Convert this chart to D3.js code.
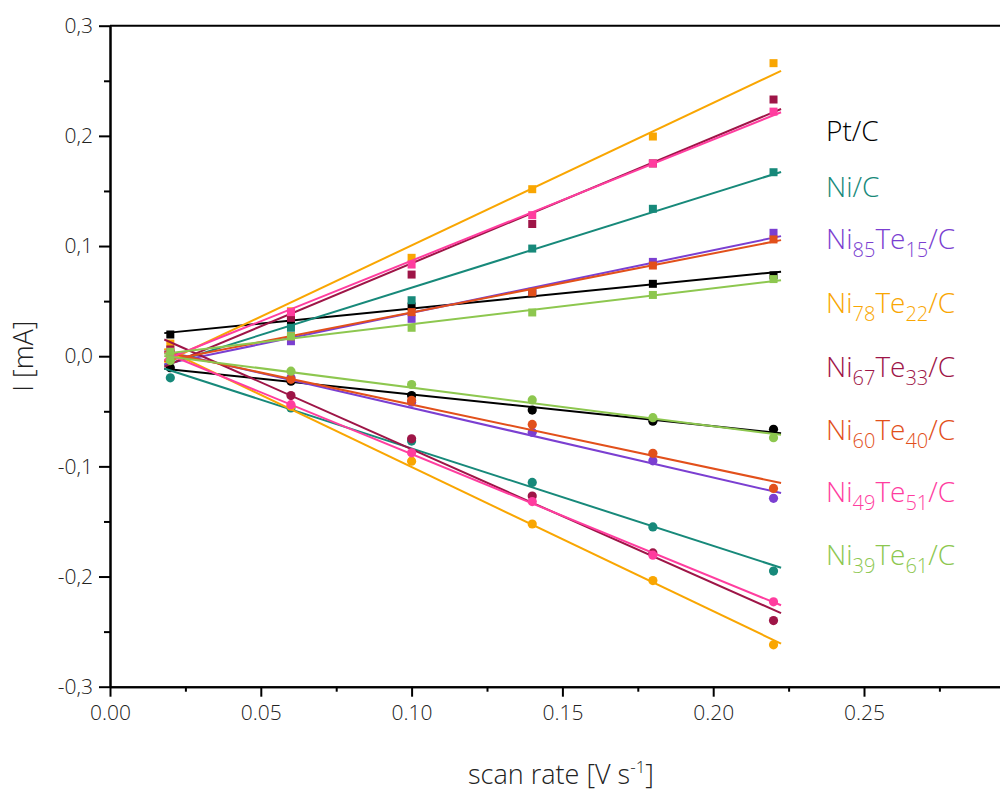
<!DOCTYPE html>
<html>
<head>
<meta charset="utf-8">
<script src="https://cdn.jsdelivr.net/npm/d3@7"></script>
<style>
  html, body { margin: 0; padding: 0; background: #fff; }
  svg { display: block; font-family: "Open Sans", sans-serif; }
</style>
</head>
<body>
<svg id="chart"></svg>
<script>
// scan rates [V s-1]
const scanRates = [0.02, 0.06, 0.10, 0.14, 0.18, 0.22]

const catalysts = ["Pt/C", "Ni/C", "Ni85Te15/C", "Ni78Te22/C", "Ni67Te33/C", "Ni60Te40/C", "Ni49Te51/C", "Ni39Te61/C"]
// legend pieces: [text, subscript?]
const legendParts = [
  [["Pt/C", false]],
  [["Ni/C", false]],
  [["Ni", false], ["85", true], ["Te", false], ["15", true], ["/C", false]],
  [["Ni", false], ["78", true], ["Te", false], ["22", true], ["/C", false]],
  [["Ni", false], ["67", true], ["Te", false], ["33", true], ["/C", false]],
  [["Ni", false], ["60", true], ["Te", false], ["40", true], ["/C", false]],
  [["Ni", false], ["49", true], ["Te", false], ["51", true], ["/C", false]],
  [["Ni", false], ["39", true], ["Te", false], ["61", true], ["/C", false]]
]
const colors = ["#000000", "#17897a", "#7b3fd1", "#f9a602", "#9e1547", "#e2501b", "#ff3d9f", "#8dc74f"]

// anodic currents [mA] (squares), one row per catalyst
const anodicCurrent = [
  [0.0197, 0.0318, 0.0451, 0.0570, 0.0657, 0.0734],
  [0.0010, 0.0258, 0.0508, 0.0977, 0.1338, 0.1670],
  [0.0010, 0.0136, 0.0339, 0.0584, 0.0856, 0.1120],
  [0.0115, 0.0408, 0.0893, 0.1516, 0.1994, 0.2660],
  [0.0061, 0.0348, 0.0741, 0.1200, 0.1750, 0.2330],
  [-0.002, 0.0181, 0.0400, 0.0580, 0.0823, 0.1060],
  [0.0040, 0.0400, 0.0832, 0.1280, 0.1750, 0.2220],
  [0.0040, 0.0180, 0.0258, 0.0397, 0.0556, 0.0700]
]
// cathodic currents [mA] (circles)
const cathodicCurrent = [
  [-0.0105, -0.0227, -0.0357, -0.0489, -0.0590, -0.0663],
  [-0.0196, -0.0470, -0.0770, -0.1146, -0.1550, -0.1950],
  [-0.0030, -0.0196, -0.0417, -0.0691, -0.0950, -0.1290],
  [-0.0020, -0.0454, -0.0953, -0.1523, -0.2037, -0.2620],
  [0.0040, -0.0357, -0.0750, -0.1270, -0.1786, -0.2400],
  [-0.0020, -0.0210, -0.0400, -0.0619, -0.0882, -0.1200],
  [0.0000, -0.0440, -0.0877, -0.1320, -0.1806, -0.2230],
  [-0.0040, -0.0136, -0.0257, -0.0397, -0.0558, -0.0740]
]

const xTicks = [0, 0.05, 0.10, 0.15, 0.20, 0.25]
const yTicks = [-0.3, -0.2, -0.1, 0, 0.1, 0.2, 0.3]
const fitRange = [0.018, 0.2225]

const width = 1000, height = 791
const margin = { top: 25.7, left: 110, bottom: 104.3 }

const svg = d3.select("#chart").attr("width", width).attr("height", height)
svg.append("rect").attr("width", width).attr("height", height).attr("fill", "#fff")

const x = d3.scaleLinear().domain([0, 0.3]).range([margin.left, margin.left + 0.3 * 3016])
const y = d3.scaleLinear().domain([-0.3, 0.3]).range([height - margin.bottom, margin.top])

// least squares fit
function fit(values) {
  const mx = d3.mean(scanRates), my = d3.mean(values)
  const sxy = d3.sum(scanRates, (s, i) => (s - mx) * (values[i] - my))
  const sxx = d3.sum(scanRates, s => (s - mx) ** 2)
  const k = sxy / sxx
  return fitRange.map(s => [s, my + k * (s - mx)])
}

const line = d3.line().x(d => x(d[0])).y(d => y(d[1]))
const plot = svg.append("g")

catalysts.forEach((name, c) => {
  const g = plot.append("g").attr("fill", colors[c]).attr("stroke", colors[c])
  g.selectAll("rect.sq").data(anodicCurrent[c]).join("rect")
      .attr("class", "sq")
      .attr("x", (d, i) => x(scanRates[i]) - 4)
      .attr("y", d => y(d) - 4)
      .attr("width", 8).attr("height", 8)
      .attr("stroke", "none")
  g.selectAll("circle").data(cathodicCurrent[c]).join("circle")
      .attr("cx", (d, i) => x(scanRates[i]))
      .attr("cy", d => y(d))
      .attr("r", 4.6)
      .attr("stroke", "none")
  g.append("path").attr("d", line(fit(anodicCurrent[c]))).attr("fill", "none").attr("stroke-width", 2)
  g.append("path").attr("d", line(fit(cathodicCurrent[c]))).attr("fill", "none").attr("stroke-width", 2)
})

// axes
const xAxis = d3.axisBottom(x).tickValues(xTicks).tickFormat(d3.format(".2f")).tickSize(10).tickSizeOuter(0).tickPadding(8)
const xMinor = d3.axisBottom(x).tickValues(xTicks.map(t => t + 0.025)).tickFormat("").tickSize(5).tickSizeOuter(0)
const yAxis = d3.axisLeft(y).tickValues(yTicks).tickFormat(d => d3.format(".1f")(d).replace(".", ",").replace("−", "-")).tickSize(11).tickSizeOuter(0).tickPadding(6)
const yMinor = d3.axisLeft(y).tickValues(yTicks.slice(0, -1).map(t => t + 0.05)).tickFormat("").tickSize(6).tickSizeOuter(0)

function styleAxis(g) {
  g.select(".domain").attr("stroke-width", 2)
  g.selectAll(".tick line").attr("stroke-width", 2)
  g.selectAll(".tick text").attr("font-size", 21).attr("font-family", "Open Sans").attr("font-weight", 300).attr("fill", "#222")
}

svg.append("g").attr("transform", `translate(0,${y(-0.3)})`).call(xMinor).call(styleAxis)
svg.append("g").attr("transform", `translate(0,${y(-0.3)})`).call(xAxis).call(styleAxis)
svg.append("g").attr("transform", `translate(${margin.left},0)`).call(yMinor).call(styleAxis)
svg.append("g").attr("transform", `translate(${margin.left},0)`).call(yAxis).call(styleAxis)

// top frame
svg.append("line")
    .attr("x1", margin.left).attr("x2", width)
    .attr("y1", y(0.3)).attr("y2", y(0.3))
    .attr("stroke", "#000").attr("stroke-width", 2)

// axis titles
const xTitle = svg.append("text")
    .attr("x", 561).attr("y", 784)
    .attr("text-anchor", "middle")
    .attr("font-size", 27).attr("font-weight", 300).attr("fill", "#222")
xTitle.append("tspan").text("scan rate [V s")
xTitle.append("tspan").attr("font-size", 17).attr("dy", -11).text("-1")
xTitle.append("tspan").attr("dy", 11).text("]")

svg.append("text")
    .attr("transform", `translate(33,${y(0)}) rotate(-90)`)
    .attr("text-anchor", "middle")
    .attr("font-size", 27).attr("font-weight", 300).attr("fill", "#222")
    .text("I [mA]")

// legend
const legendY = [141, 197, 249, 313, 377, 440, 502, 565]
legendParts.forEach((parts, c) => {
  const t = svg.append("text")
      .attr("x", 826).attr("y", legendY[c])
      .attr("font-size", 28).attr("font-weight", 300)
      .attr("fill", colors[c])
  let sub = false
  parts.forEach(([txt, isSub]) => {
    const dy = isSub && !sub ? 8 : (!isSub && sub ? -8 : 0)
    t.append("tspan").attr("dy", dy).attr("font-size", isSub ? 20 : 28).text(txt)
    sub = isSub
  })
})
</script>
</body>
</html>
